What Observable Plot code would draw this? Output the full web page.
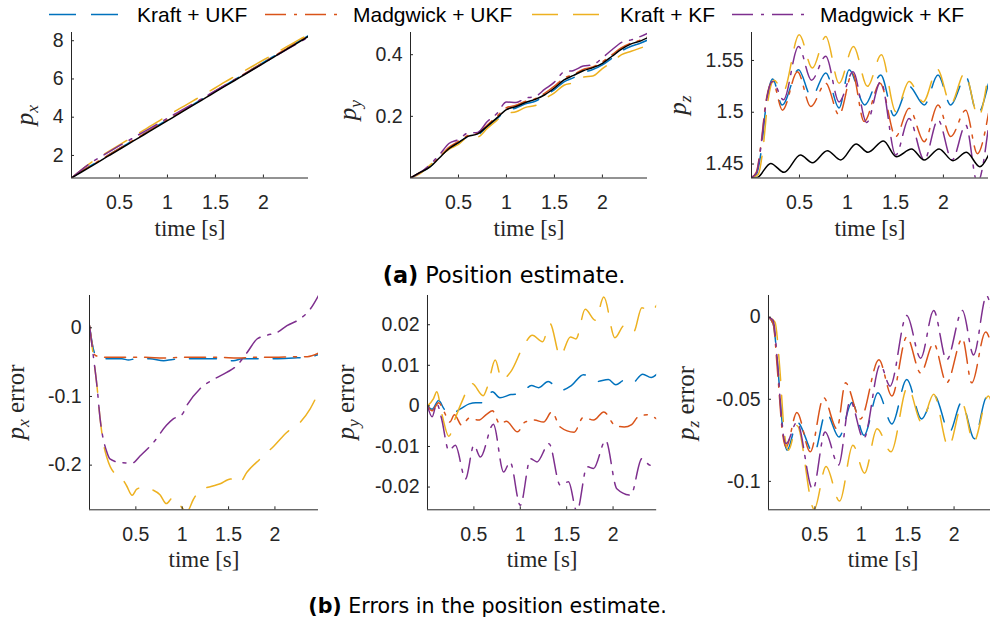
<!DOCTYPE html>
<html><head><meta charset="utf-8">
<script src="https://cdn.jsdelivr.net/npm/d3@7"></script>
<script src="https://cdn.jsdelivr.net/npm/@observablehq/plot@0.6"></script>
<style>
html,body{margin:0;padding:0;background:#fff;width:990px;height:626px;overflow:hidden;}
#root{position:relative;width:990px;height:626px;overflow:hidden;}
.pnl{position:absolute;}
#overlay{position:absolute;left:0;top:0;pointer-events:none;}
</style>
</head><body><div id="root"></div>
<script>
// ---------------- data ----------------
const seriesNames = ["Kraft + UKF", "Madgwick + UKF", "Kraft + KF", "Madgwick + KF"];
const xTicks = [0.5, 1, 1.5, 2];
const timeGrid = [0,0.1,0.2,0.3,0.4,0.5,0.6,0.7,0.8,0.9,1,1.1,1.2,1.3,1.4,1.5,1.6,1.7,1.8,1.9,2,2.1,2.2,2.3,2.4,2.47];

// (a) position p_x
const pxTruth    = [0.82,1.12,1.42,1.72,2.02,2.32,2.62,2.92,3.22,3.52,3.82,4.12,4.42,4.72,5.02,5.32,5.62,5.92,6.22,6.52,6.82,7.12,7.42,7.72,8.02,8.23];
const pxKraftUKF = [0.82,1.165,1.465,1.765,2.066,2.365,2.665,2.965,3.268,3.566,3.865,4.165,4.465,4.765,5.065,5.367,5.667,5.965,6.265,6.565,6.865,7.165,7.464,7.764,8.062,8.269];
const pxMadgUKF  = [0.82,1.163,1.463,1.763,2.063,2.363,2.663,2.963,3.264,3.563,3.863,4.163,4.463,4.763,5.063,5.363,5.664,5.963,6.263,6.563,6.863,7.162,7.462,7.762,8.061,8.267];
const pxKraftKF  = [0.82,1.24,1.615,1.933,2.25,2.556,2.853,3.158,3.47,3.767,4.082,4.375,4.657,4.952,5.247,5.541,5.846,6.13,6.417,6.704,6.991,7.277,7.565,7.853,8.132,8.324];
const pxMadgKF   = [0.82,1.235,1.605,1.915,2.216,2.51,2.795,3.083,3.363,3.653,3.945,4.227,4.508,4.798,5.091,5.384,5.675,5.956,6.238,6.531,6.828,7.119,7.412,7.704,7.99,8.183];

// (a) position p_y
const pyTruth    = [0,0.018,0.035,0.065,0.095,0.115,0.135,0.143,0.168,0.195,0.222,0.232,0.245,0.255,0.27,0.292,0.318,0.333,0.348,0.358,0.372,0.395,0.418,0.435,0.445,0.455];
const pyKraftUKF = [0,0.017,0.036,0.066,0.0945,0.114,0.134,0.14,0.166,0.192,0.219,0.227,0.2405,0.249,0.266,0.287,0.312,0.3255,0.342,0.352,0.367,0.389,0.412,0.4275,0.438,0.447];
const pyMadgUKF  = [0,0.018,0.037,0.068,0.0995,0.119,0.138,0.145,0.172,0.2,0.228,0.236,0.249,0.257,0.275,0.298,0.324,0.336,0.352,0.36,0.377,0.4,0.423,0.438,0.448,0.458];
const pyKraftKF  = [0,0.014,0.041,0.068,0.093,0.109,0.132,0.133,0.161,0.187,0.209,0.215,0.229,0.235,0.257,0.276,0.301,0.309,0.327,0.331,0.355,0.376,0.40,0.411,0.422,0.43];
const pyMadgKF   = [0,0.0174,0.043,0.0747,0.112,0.1247,0.146,0.148,0.183,0.209,0.2465,0.245,0.259,0.2645,0.288,0.311,0.344,0.349,0.363,0.367,0.39,0.416,0.44,0.448,0.4596,0.469];

// (a) position p_z  [time, value]
const pzTruth = [[0,1.4365],[0.06,1.437],[0.2,1.4506],[0.34,1.442],[0.51,1.4587],[0.635,1.4513],[0.79,1.4629],[0.93,1.4539],[1.09,1.4694],[1.215,1.4613],[1.375,1.4723],[1.51,1.4571],[1.667,1.4645],[1.8,1.4539],[1.955,1.4645],[2.1,1.4532],[2.24,1.4613],[2.38,1.4474],[2.47,1.4587]];
const pzKraftUKF = [[0,1.437],[0.05,1.44],[0.1,1.462],[0.15,1.505],[0.22,1.532],[0.32,1.507],[0.49,1.541],[0.625,1.515],[0.774,1.538],[0.913,1.504],[1.017,1.541],[1.18,1.507],[1.347,1.536],[1.486,1.4965],[1.642,1.525],[1.8,1.507],[1.944,1.536],[2.076,1.507],[2.233,1.5345],[2.354,1.4984],[2.47,1.528]];
const pzMadgUKF = [[0,1.437],[0.05,1.442],[0.1,1.47],[0.15,1.51],[0.22,1.5297],[0.323,1.502],[0.479,1.539],[0.618,1.5055],[0.774,1.528],[0.913,1.4974],[1.052,1.5377],[1.174,1.491],[1.34,1.528],[1.503,1.4765],[1.642,1.5039],[1.8,1.4716],[1.944,1.507],[2.076,1.4765],[2.233,1.502],[2.354,1.46],[2.47,1.499]];
const pzKraftKF = [[0,1.437],[0.07,1.44],[0.12,1.465],[0.17,1.51],[0.236,1.531],[0.33,1.52],[0.497,1.5748],[0.635,1.5426],[0.774,1.5732],[0.913,1.528],[1.0625,1.5635],[1.208,1.525],[1.354,1.5555],[1.503,1.5006],[1.642,1.5297],[1.79,1.51],[1.9375,1.5416],[2.076,1.508],[2.222,1.5377],[2.365,1.4958],[2.47,1.539]];
const pzMadgKF = [[0,1.437],[0.05,1.441],[0.1,1.468],[0.15,1.508],[0.22,1.5297],[0.333,1.512],[0.49,1.5635],[0.625,1.531],[0.774,1.554],[0.913,1.51],[1.059,1.539],[1.2,1.49],[1.347,1.5297],[1.503,1.4587],[1.642,1.494],[1.8,1.4539],[1.944,1.4926],[2.09,1.4539],[2.233,1.4877],[2.354,1.432],[2.47,1.486]];

// (b) errors p_x  [time, value]
const exKraftUKF = [[0,0.003],[0.04,-0.03],[0.08,-0.043],[0.2,-0.045],[0.35,-0.045],[0.42,-0.047],[0.5,-0.045],[0.65,-0.045],[0.8,-0.048],[0.9,-0.046],[1.1,-0.045],[1.3,-0.045],[1.45,-0.046],[1.55,-0.048],[1.65,-0.045],[1.8,-0.045],[2,-0.045],[2.2,-0.044],[2.35,-0.043],[2.47,-0.039]];
const exMadgUKF = [[0,0.003],[0.03,-0.025],[0.06,-0.04],[0.15,-0.043],[0.4,-0.043],[0.6,-0.043],[0.8,-0.044],[1,-0.043],[1.2,-0.043],[1.4,-0.043],[1.6,-0.044],[1.8,-0.043],[2,-0.043],[2.2,-0.042],[2.35,-0.042],[2.47,-0.037]];
const exKraftKF = [[0,0.003],[0.04,-0.04],[0.08,-0.084],[0.115,-0.133],[0.15,-0.168],[0.19,-0.19],[0.26,-0.21],[0.33,-0.215],[0.4,-0.23],[0.46,-0.244],[0.51,-0.235],[0.58,-0.232],[0.68,-0.236],[0.76,-0.243],[0.83,-0.256],[0.9,-0.247],[0.98,-0.259],[1.05,-0.268],[1.12,-0.25],[1.19,-0.237],[1.34,-0.23],[1.41,-0.227],[1.52,-0.22],[1.61,-0.227],[1.7,-0.21],[1.84,-0.191],[1.99,-0.172],[2.13,-0.152],[2.27,-0.138],[2.38,-0.118],[2.47,-0.094]];
const exMadgKF = [[0,0.003],[0.04,-0.04],[0.08,-0.084],[0.115,-0.133],[0.187,-0.181],[0.22,-0.191],[0.33,-0.196],[0.46,-0.197],[0.55,-0.186],[0.69,-0.167],[0.83,-0.142],[0.9,-0.133],[1,-0.126],[1.05,-0.113],[1.19,-0.089],[1.34,-0.075],[1.48,-0.065],[1.59,-0.055],[1.7,-0.036],[1.81,-0.016],[1.91,-0.011],[2.02,-0.007],[2.13,0.003],[2.27,0.013],[2.38,0.027],[2.47,0.047]];

// (b) errors p_y  [time, value]
const eyKraftUKF = [[0,0],[0.05,-0.0008],[0.12,0.0013],[0.18,-0.0008],[0.25,-0.002],[0.35,-0.0008],[0.45,0.0005],[0.52,0.0008],[0.6,0.0008],[0.7,0.0035],[0.78,0.002],[0.9,0.0028],[1,0.003],[1.12,0.005],[1.2,0.0045],[1.3,0.006],[1.43,0.0038],[1.55,0.005],[1.68,0.0077],[1.82,0.006],[1.95,0.0065],[2.03,0.0052],[2.12,0.0063],[2.2,0.0055],[2.32,0.0078],[2.41,0.007],[2.47,0.0078]];
const eyMadgUKF = [[0,0],[0.05,-0.0012],[0.12,0.0008],[0.18,-0.0015],[0.24,-0.004],[0.29,-0.0022],[0.37,-0.0048],[0.45,-0.003],[0.55,-0.0035],[0.64,-0.002],[0.7,-0.0012],[0.78,-0.0045],[0.85,-0.0038],[0.97,-0.0064],[1.05,-0.004],[1.15,-0.0035],[1.25,-0.004],[1.34,-0.0015],[1.43,-0.0052],[1.58,-0.0065],[1.68,-0.0028],[1.79,-0.0035],[1.9,-0.0015],[2.02,-0.0048],[2.12,-0.0052],[2.2,-0.0046],[2.27,-0.0027],[2.37,-0.0022],[2.47,-0.0032]];
const eyKraftKF = [[0,0],[0.065,0.0018],[0.1,0.0035],[0.155,-0.002],[0.23,-0.0075],[0.3,-0.003],[0.37,0.001],[0.48,0.0055],[0.6,0.0025],[0.65,0.005],[0.73,0.0113],[0.8,0.0065],[0.9,0.0085],[1.04,0.015],[1.13,0.0174],[1.24,0.0158],[1.32,0.0203],[1.43,0.0123],[1.54,0.017],[1.6,0.0165],[1.7,0.0238],[1.81,0.0211],[1.9,0.0268],[2.02,0.0168],[2.12,0.0198],[2.22,0.0182],[2.31,0.0242],[2.4,0.0232],[2.47,0.0248]];
const eyMadgKF = [[0,0],[0.05,-0.0027],[0.1,0.0006],[0.15,-0.003],[0.23,-0.011],[0.3,-0.0097],[0.41,-0.018],[0.5,-0.0097],[0.57,-0.0126],[0.71,-0.0045],[0.82,-0.0163],[0.89,-0.0138],[1,-0.0245],[1.11,-0.013],[1.18,-0.0138],[1.31,-0.0093],[1.43,-0.0195],[1.52,-0.0187],[1.61,-0.026],[1.72,-0.015],[1.79,-0.0154],[1.92,-0.0085],[2.04,-0.0204],[2.19,-0.022],[2.31,-0.013],[2.4,-0.0146],[2.47,-0.0138]];

// (b) errors p_z  [time, value]
const ezKraftUKF = [[0,0],[0.05,-0.004],[0.1,-0.03],[0.15,-0.066],[0.2,-0.081],[0.31,-0.064],[0.49,-0.083],[0.62,-0.058],[0.76,-0.073],[0.9,-0.052],[1.03,-0.072],[1.18,-0.046],[1.33,-0.065],[1.49,-0.038],[1.65,-0.062],[1.79,-0.048],[1.95,-0.07],[2.08,-0.052],[2.22,-0.074],[2.35,-0.049],[2.47,-0.069]];
const ezMadgUKF = [[0,0],[0.05,-0.004],[0.1,-0.035],[0.15,-0.07],[0.19,-0.079],[0.306,-0.058],[0.45,-0.082],[0.594,-0.049],[0.737,-0.068],[0.83,-0.04],[0.99,-0.062],[1.19,-0.026],[1.33,-0.048],[1.49,-0.012],[1.64,-0.034],[1.78,-0.016],[1.92,-0.04],[2.09,-0.013],[2.19,-0.04],[2.34,-0.009],[2.47,-0.04]];
const ezKraftKF = [[0,0],[0.07,-0.003],[0.12,-0.03],[0.17,-0.07],[0.216,-0.081],[0.306,-0.066],[0.493,-0.117],[0.62,-0.091],[0.766,-0.112],[0.91,-0.078],[1.035,-0.095],[1.17,-0.068],[1.32,-0.082],[1.5,-0.0425],[1.65,-0.064],[1.78,-0.047],[1.94,-0.079],[2.09,-0.053],[2.21,-0.076],[2.37,-0.048],[2.47,-0.08]];
const ezMadgKF = [[0,0],[0.05,-0.002],[0.1,-0.03],[0.15,-0.068],[0.19,-0.077],[0.306,-0.064],[0.478,-0.105],[0.61,-0.07],[0.755,-0.09],[0.88,-0.051],[1.025,-0.074],[1.205,-0.029],[1.31,-0.042],[1.49,0.001],[1.64,-0.025],[1.78,0.004],[1.92,-0.026],[2.09,0.004],[2.21,-0.023],[2.35,0.013],[2.47,-0.027]];

// ---------------- styles ----------------
const lineColors = ["#0072BD", "#D95319", "#EDB120", "#7E2F8E"];
const lineDashes = ["27 15", "21 8 3 8", "26 15", "21 8 3 8"];
const axisColor = "#262626";
const tickFont = "'Liberation Sans', Arial, Helvetica, sans-serif";
const serifFont = "'Liberation Serif', 'Times New Roman', serif";

const root = document.getElementById("root");
const grid = arr => timeGrid.map((t, i) => [t, arr[i]]);

function panel(cfg) {
  const ML = 70, MR = 4, MT = 4, MB = 78;
  const w = cfg.R - cfg.L, h = cfg.B - cfg.T;
  const W = ML + w + MR, H = MT + h + MB;
  const marks = [];
  cfg.series.forEach((data, i) => marks.push(Plot.line(data, {
    x: d => d[0], y: d => d[1], stroke: lineColors[i], strokeWidth: 1.5,
    strokeDasharray: lineDashes[i], curve: "monotone-x", clip: true
  })));
  if (cfg.truth) marks.push(Plot.line(cfg.truth, {x: d => d[0], y: d => d[1], stroke: "#000", strokeWidth: 1.5, curve: "monotone-x", clip: true}));
  marks.push(Plot.ruleX([cfg.xDomain[0]], {stroke: axisColor, strokeWidth: 1}));
  marks.push(Plot.ruleY([cfg.yDomain[0]], {stroke: axisColor, strokeWidth: 1}));
  marks.push(Plot.axisX({ticks: xTicks, tickFormat: d => String(d), tickSize: -3, tickPadding: cfg.xTickPad, label: null}));
  marks.push(Plot.axisY({ticks: cfg.yTicks, tickFormat: d => String(d), tickSize: -3, tickPadding: 11, label: null}));
  marks.push(Plot.text(["time [s]"], {frameAnchor: "bottom", dy: cfg.xLabelDy, fontFamily: serifFont, fontSize: 23, fill: axisColor}));
  const chart = Plot.plot({
    width: W, height: H, marginLeft: ML, marginRight: MR, marginTop: MT, marginBottom: MB,
    x: {domain: cfg.xDomain}, y: {domain: cfg.yDomain},
    style: {fontFamily: tickFont, fontSize: "19.5px", color: axisColor, background: "transparent", maxWidth: "none", overflow: "visible"},
    marks
  });
  const div = document.createElement("div");
  div.className = "pnl";
  div.style.left = (cfg.L - ML) + "px";
  div.style.top = (cfg.T - MT) + "px";
  div.style.width = W + "px";
  div.appendChild(chart);
  root.appendChild(div);
}

const xDom = [0, 2.47];
panel({L: 71, R: 308, T: 31.5, B: 177, xDomain: xDom, yDomain: [0.82, 8.43], yTicks: [2, 4, 6, 8], xTickPad: 20, xLabelDy: 58,
  series: [grid(pxKraftUKF), grid(pxMadgUKF), grid(pxKraftKF), grid(pxMadgKF)], truth: grid(pxTruth)});
panel({L: 410, R: 647, T: 31.5, B: 177, xDomain: xDom, yDomain: [0, 0.472], yTicks: [0.2, 0.4], xTickPad: 20, xLabelDy: 58,
  series: [grid(pyKraftUKF), grid(pyMadgUKF), grid(pyKraftKF), grid(pyMadgKF)], truth: grid(pyTruth)});
panel({L: 750.5, R: 987.5, T: 31.5, B: 177, xDomain: xDom, yDomain: [1.4365, 1.577], yTicks: [1.45, 1.5, 1.55], xTickPad: 20, xLabelDy: 58,
  series: [pzKraftUKF, pzMadgUKF, pzKraftKF, pzMadgKF], truth: pzTruth});
panel({L: 89, R: 318, T: 295, B: 509.3, xDomain: xDom, yDomain: [-0.265, 0.047], yTicks: [-0.2, -0.1, 0], xTickPad: 20, xLabelDy: 57,
  series: [exKraftUKF, exMadgUKF, exKraftKF, exMadgKF]});
panel({L: 427.3, R: 656.5, T: 295, B: 509.3, xDomain: xDom, yDomain: [-0.0256, 0.0272], yTicks: [-0.02, -0.01, 0, 0.01, 0.02], xTickPad: 20, xLabelDy: 57,
  series: [eyKraftUKF, eyMadgUKF, eyKraftKF, eyMadgKF]});
panel({L: 768.3, R: 997.5, T: 295, B: 509.3, xDomain: xDom, yDomain: [-0.1173, 0.0132], yTicks: [-0.1, -0.05, 0], xTickPad: 20, xLabelDy: 57,
  series: [ezKraftUKF, ezMadgUKF, ezKraftKF, ezMadgKF]});

// ---------------- overlay: legend, y labels, captions ----------------
const svg = d3.select(root).append("svg").attr("id", "overlay").attr("width", 990).attr("height", 626);
const legendPos = [[49, 118, 137], [265, 338, 353], [532, 600, 620], [732, 808, 820]];
seriesNames.forEach((name, i) => {
  const [x1, x2, tx] = legendPos[i];
  svg.append("line").attr("x1", x1).attr("x2", x2).attr("y1", 14.5).attr("y2", 14.5)
    .attr("stroke", lineColors[i]).attr("stroke-width", 1.5).attr("stroke-dasharray", lineDashes[i]);
  svg.append("text").attr("x", tx).attr("y", 21.7).attr("font-family", tickFont).attr("font-size", 21)
    .attr("fill", "#000").text(name);
});

const yLabels = [["x", "", 25.5, 115], ["y", "", 348, 110], ["z", "", 678, 105],
                 ["x", " error", 16.7, 402], ["y", " error", 346.7, 402], ["z", " error", 686, 403]];
const yFs = 25;
yLabels.forEach(([sub, rest, cx, cy]) => {
  const t = svg.append("text").attr("transform", `translate(${cx + yFs * 0.3},${cy}) rotate(-90)`)
    .attr("text-anchor", "middle").attr("font-family", serifFont).attr("font-size", yFs).attr("fill", axisColor);
  t.append("tspan").attr("font-style", "italic").text("p");
  t.append("tspan").attr("font-style", "italic").attr("font-size", yFs * 0.7).attr("dy", yFs * 0.2).text(sub);
  if (rest) t.append("tspan").attr("dy", -yFs * 0.2).text(rest);
});

const capFont = "'DejaVu Sans', 'Noto Sans', sans-serif";
const captions = [["(a)", " Position estimate.", 504, 283, 22.4], ["(b)", " Errors in the position estimate.", 487.5, 613, 20.6]];
captions.forEach(([b, rest, cx, by, fs]) => {
  const t = svg.append("text").attr("x", cx).attr("y", by).attr("text-anchor", "middle")
    .attr("font-family", capFont).attr("font-size", fs).attr("fill", "#000");
  t.append("tspan").attr("font-weight", "bold").text(b);
  t.append("tspan").text(rest);
});
</script>
</body></html>
